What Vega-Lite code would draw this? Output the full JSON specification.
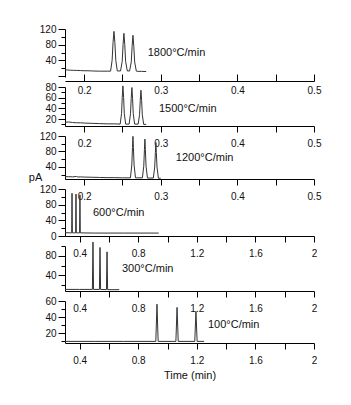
{
  "$schema": "https://vega.github.io/schema/vega-lite/v6.json",
  "padding": {"left": 28, "top": 24, "right": 10, "bottom": 5},
  "background": "white",
  "bounds": "flush",
  "spacing": 10,
  "config": {
    "font": "Liberation Sans",
    "view": {"stroke": null},
    "axis": {
      "grid": false,
      "domainColor": "#000",
      "tickColor": "#000",
      "labelColor": "#111",
      "labelFont": "Liberation Sans",
      "labelFontSize": 10,
      "labelFlush": false,
      "labelOverlap": false,
      "labelBound": false,
      "tickCount": 100,
      "titleFont": "Liberation Sans",
      "titleFontWeight": "normal",
      "titleFontSize": 11,
      "titleColor": "#111",
      "domainWidth": 1,
      "tickWidth": 1
    },
    "line": {"color": "#333", "strokeWidth": 1},
    "text": {"font": "Liberation Sans", "fontSize": 11, "color": "#111", "align": "left", "baseline": "middle"}
  },
  "datasets": {
    "p1": [
      {"t": 0.175, "v": 16}, {"t": 0.178, "v": 15.5}, {"t": 0.182, "v": 15}, {"t": 0.186, "v": 14.5},
      {"t": 0.19, "v": 14.5}, {"t": 0.195, "v": 14}, {"t": 0.2, "v": 13.5}, {"t": 0.205, "v": 13.5},
      {"t": 0.21, "v": 13}, {"t": 0.22, "v": 12.5}, {"t": 0.23, "v": 12.5}, {"t": 0.2345, "v": 12.5},
      {"t": 0.2365, "v": 40}, {"t": 0.2377, "v": 85}, {"t": 0.2389, "v": 114}, {"t": 0.2401, "v": 85},
      {"t": 0.2413, "v": 40}, {"t": 0.2433, "v": 13}, {"t": 0.2475, "v": 13}, {"t": 0.2497, "v": 38},
      {"t": 0.2508, "v": 80}, {"t": 0.2519, "v": 109}, {"t": 0.253, "v": 80}, {"t": 0.2541, "v": 38},
      {"t": 0.2563, "v": 13}, {"t": 0.2593, "v": 13}, {"t": 0.2615, "v": 36}, {"t": 0.2626, "v": 76},
      {"t": 0.2637, "v": 104}, {"t": 0.2648, "v": 76}, {"t": 0.2659, "v": 36}, {"t": 0.2681, "v": 12.5},
      {"t": 0.27, "v": 12}, {"t": 0.275, "v": 12}, {"t": 0.281, "v": 11.5}
    ],
    "p2": [
      {"t": 0.175, "v": 14}, {"t": 0.18, "v": 14.5}, {"t": 0.185, "v": 13.5}, {"t": 0.19, "v": 13},
      {"t": 0.195, "v": 13}, {"t": 0.2, "v": 12.5}, {"t": 0.21, "v": 12}, {"t": 0.22, "v": 11.5},
      {"t": 0.23, "v": 11}, {"t": 0.24, "v": 11}, {"t": 0.247, "v": 10.5}, {"t": 0.2488, "v": 30},
      {"t": 0.2497, "v": 60}, {"t": 0.2506, "v": 82}, {"t": 0.2515, "v": 60}, {"t": 0.2524, "v": 30},
      {"t": 0.2542, "v": 10.5}, {"t": 0.2587, "v": 10.5}, {"t": 0.2605, "v": 30}, {"t": 0.2614, "v": 58},
      {"t": 0.2623, "v": 79}, {"t": 0.2632, "v": 58}, {"t": 0.2641, "v": 30}, {"t": 0.2659, "v": 10.5},
      {"t": 0.2705, "v": 10.5}, {"t": 0.2723, "v": 28}, {"t": 0.2732, "v": 55}, {"t": 0.2741, "v": 74},
      {"t": 0.275, "v": 55}, {"t": 0.2759, "v": 28}, {"t": 0.2777, "v": 10}, {"t": 0.281, "v": 10}
    ],
    "p3": [
      {"t": 0.175, "v": 15}, {"t": 0.18, "v": 15}, {"t": 0.185, "v": 14.5}, {"t": 0.19, "v": 15.5},
      {"t": 0.192, "v": 14}, {"t": 0.195, "v": 14.5}, {"t": 0.2, "v": 14}, {"t": 0.21, "v": 13.5},
      {"t": 0.22, "v": 13}, {"t": 0.23, "v": 12.5}, {"t": 0.24, "v": 12.5}, {"t": 0.25, "v": 12},
      {"t": 0.2604, "v": 12}, {"t": 0.2622, "v": 45}, {"t": 0.2631, "v": 90}, {"t": 0.2637, "v": 119},
      {"t": 0.2643, "v": 90}, {"t": 0.2652, "v": 45}, {"t": 0.267, "v": 12}, {"t": 0.276, "v": 12},
      {"t": 0.2778, "v": 42}, {"t": 0.2787, "v": 85}, {"t": 0.2793, "v": 112}, {"t": 0.2799, "v": 85},
      {"t": 0.2808, "v": 42}, {"t": 0.2826, "v": 11.5}, {"t": 0.2903, "v": 11.5}, {"t": 0.2921, "v": 40},
      {"t": 0.293, "v": 78}, {"t": 0.2936, "v": 103}, {"t": 0.2942, "v": 78}, {"t": 0.2951, "v": 40},
      {"t": 0.2969, "v": 11}, {"t": 0.3, "v": 11}
    ],
    "p4": [
      {"t": 0.3, "v": 8.5}, {"t": 0.34, "v": 8}, {"t": 0.3455, "v": 8}, {"t": 0.348, "v": 109},
      {"t": 0.3505, "v": 8}, {"t": 0.3725, "v": 8}, {"t": 0.375, "v": 107}, {"t": 0.3775, "v": 8},
      {"t": 0.3995, "v": 8}, {"t": 0.402, "v": 105}, {"t": 0.4045, "v": 8}, {"t": 0.5, "v": 7.5},
      {"t": 0.7, "v": 7.5}, {"t": 0.94, "v": 7.5}
    ],
    "p5": [
      {"t": 0.3, "v": 11}, {"t": 0.4, "v": 11}, {"t": 0.487, "v": 11}, {"t": 0.491, "v": 108},
      {"t": 0.495, "v": 11}, {"t": 0.535, "v": 11}, {"t": 0.539, "v": 97}, {"t": 0.543, "v": 11},
      {"t": 0.583, "v": 10.5}, {"t": 0.587, "v": 88}, {"t": 0.591, "v": 10.5}, {"t": 0.67, "v": 10.5}
    ],
    "p6": [
      {"t": 0.3, "v": 9.5}, {"t": 0.5, "v": 9.5}, {"t": 0.7, "v": 9.5}, {"t": 0.92, "v": 9.5},
      {"t": 0.928, "v": 56}, {"t": 0.936, "v": 9.5}, {"t": 1.057, "v": 9.5}, {"t": 1.065, "v": 52},
      {"t": 1.073, "v": 9.5}, {"t": 1.186, "v": 9.5}, {"t": 1.194, "v": 47}, {"t": 1.202, "v": 9.5},
      {"t": 1.25, "v": 9.5}
    ]
  },
  "vconcat": [
    {
      "width": 249, "height": 48,
      "layer": [
        {
          "data": {"name": "p1"},
          "mark": {"type": "line"},
          "encoding": {
            "x": {"field": "t", "type": "quantitative",
              "scale": {"domain": [0.175, 0.5], "nice": false, "zero": false},
              "axis": {"values": [0.2, 0.25, 0.3, 0.35, 0.4, 0.45, 0.5], "tickCount": 100, "labelExpr": "round(datum.value*100) % 10 == 0 ? format(datum.value, '~g') : ''", "offset": 4, "tickSize": -7, "labelPadding": 11, "title": null}},
            "y": {"field": "v", "type": "quantitative",
              "scale": {"domain": [-2.4, 120], "nice": false, "zero": false},
              "axis": {"values": [0, 20, 40, 60, 80, 100, 120], "tickCount": 100, "labelExpr": "datum.value % 40 == 0 && datum.value > 0 ? format(datum.value, '~g') : ''", "tickSize": {"condition": {"test": "datum.value % 40 == 0", "value": 7}, "value": 4}, "labelPadding": 2, "title": null}}
          }
        },
        {
          "data": {"values": [{"t": 0.283, "v": 58, "label": "1800°C/min"}]},
          "mark": {"type": "text"},
          "encoding": {
            "x": {"field": "t", "type": "quantitative"},
            "y": {"field": "v", "type": "quantitative"},
            "text": {"field": "label"}
          }
        }
      ]
    },
    {
      "width": 249, "height": 39,
      "layer": [
        {
          "data": {"name": "p2"},
          "mark": {"type": "line"},
          "encoding": {
            "x": {"field": "t", "type": "quantitative",
              "scale": {"domain": [0.175, 0.5], "nice": false, "zero": false},
              "axis": {"values": [0.2, 0.25, 0.3, 0.35, 0.4, 0.45, 0.5], "tickCount": 100, "labelExpr": "round(datum.value*100) % 10 == 0 ? format(datum.value, '~g') : ''", "tickSize": 6, "labelPadding": 6, "title": null}},
            "y": {"field": "v", "type": "quantitative",
              "scale": {"domain": [7, 80], "nice": false, "zero": false},
              "axis": {"values": [10, 20, 30, 40, 50, 60, 70, 80], "tickCount": 100, "labelExpr": "datum.value % 20 == 0 ? format(datum.value, '~g') : ''", "tickSize": {"condition": {"test": "datum.value % 20 == 0", "value": 7}, "value": 4}, "labelPadding": 2, "title": null}}
          }
        },
        {
          "data": {"values": [{"t": 0.2976, "v": 39, "label": "1500°C/min"}]},
          "mark": {"type": "text"},
          "encoding": {
            "x": {"field": "t", "type": "quantitative"},
            "y": {"field": "v", "type": "quantitative"},
            "text": {"field": "label"}
          }
        }
      ]
    },
    {
      "width": 249, "height": 43,
      "layer": [
        {
          "data": {"name": "p3"},
          "mark": {"type": "line"},
          "encoding": {
            "x": {"field": "t", "type": "quantitative",
              "scale": {"domain": [0.175, 0.5], "nice": false, "zero": false},
              "axis": {"values": [0.2, 0.25, 0.3, 0.35, 0.4, 0.45, 0.5], "tickCount": 100, "labelExpr": "round(datum.value*100) % 10 == 0 ? format(datum.value, '~g') : ''", "tickSize": 6, "labelPadding": 6, "title": null}},
            "y": {"field": "v", "type": "quantitative",
              "scale": {"domain": [9, 120], "nice": false, "zero": false},
              "axis": {"values": [20, 40, 60, 80, 100, 120], "tickCount": 100, "labelExpr": "datum.value % 40 == 0 ? format(datum.value, '~g') : ''", "tickSize": {"condition": {"test": "datum.value % 40 == 0", "value": 7}, "value": 4}, "labelPadding": 2,
                "title": "pA", "titleAngle": 0, "titleX": -30, "titleY": 41, "titleAlign": "center", "titleBaseline": "middle", "titleFontSize": 11}}
          }
        },
        {
          "data": {"values": [{"t": 0.3197, "v": 63, "label": "1200°C/min"}]},
          "mark": {"type": "text"},
          "encoding": {
            "x": {"field": "t", "type": "quantitative"},
            "y": {"field": "v", "type": "quantitative"},
            "text": {"field": "label"}
          }
        }
      ]
    },
    {
      "width": 249, "height": 47,
      "layer": [
        {
          "data": {"name": "p4"},
          "mark": {"type": "line"},
          "encoding": {
            "x": {"field": "t", "type": "quantitative",
              "scale": {"domain": [0.3, 2], "nice": false, "zero": false},
              "axis": {"values": [0.4, 0.6, 0.8, 1, 1.2, 1.4, 1.6, 1.8, 2], "tickCount": 100, "labelExpr": "round(datum.value*10) % 4 == 0 ? format(datum.value, '~g') : ''", "tickSize": 6, "labelPadding": 6, "title": null}},
            "y": {"field": "v", "type": "quantitative",
              "scale": {"domain": [0, 120], "nice": false, "zero": false},
              "axis": {"values": [0, 20, 40, 60, 80, 100, 120], "tickCount": 100, "labelExpr": "datum.value % 40 == 0 ? format(datum.value, '~g') : ''", "tickSize": {"condition": {"test": "datum.value % 40 == 0", "value": 7}, "value": 4}, "labelPadding": 2, "title": null}}
          }
        },
        {
          "data": {"values": [{"t": 0.491, "v": 59, "label": "600°C/min"}]},
          "mark": {"type": "text"},
          "encoding": {
            "x": {"field": "t", "type": "quantitative"},
            "y": {"field": "v", "type": "quantitative"},
            "text": {"field": "label"}
          }
        }
      ]
    },
    {
      "width": 249, "height": 45,
      "layer": [
        {
          "data": {"name": "p5"},
          "mark": {"type": "line"},
          "encoding": {
            "x": {"field": "t", "type": "quantitative",
              "scale": {"domain": [0.3, 2], "nice": false, "zero": false},
              "axis": {"values": [0.4, 0.6, 0.8, 1, 1.2, 1.4, 1.6, 1.8, 2], "tickCount": 100, "labelExpr": "round(datum.value*10) % 4 == 0 ? format(datum.value, '~g') : ''", "tickSize": 6, "labelPadding": 6, "title": null}},
            "y": {"field": "v", "type": "quantitative",
              "scale": {"domain": [7.75, 100], "nice": false, "zero": false},
              "axis": {"values": [20, 40, 60, 80, 100], "tickCount": 100, "labelExpr": "datum.value % 40 == 0 ? format(datum.value, '~g') : ''", "tickSize": {"condition": {"test": "datum.value % 40 == 0", "value": 7}, "value": 4}, "labelPadding": 2, "title": null}}
          }
        },
        {
          "data": {"values": [{"t": 0.689, "v": 53, "label": "300°C/min"}]},
          "mark": {"type": "text"},
          "encoding": {
            "x": {"field": "t", "type": "quantitative"},
            "y": {"field": "v", "type": "quantitative"},
            "text": {"field": "label"}
          }
        }
      ]
    },
    {
      "width": 249, "height": 42,
      "layer": [
        {
          "data": {"name": "p6"},
          "mark": {"type": "line"},
          "encoding": {
            "x": {"field": "t", "type": "quantitative",
              "scale": {"domain": [0.3, 2], "nice": false, "zero": false},
              "axis": {"values": [0.4, 0.6, 0.8, 1, 1.2, 1.4, 1.6, 1.8, 2], "tickCount": 100, "labelExpr": "round(datum.value*10) % 4 == 0 ? format(datum.value, '~g') : ''", "tickSize": 6, "labelPadding": 6, "title": "Time (min)", "titlePadding": 4}},
            "y": {"field": "v", "type": "quantitative",
              "scale": {"domain": [7.5, 60], "nice": false, "zero": false},
              "axis": {"values": [10, 20, 30, 40, 50, 60], "tickCount": 100, "labelExpr": "datum.value % 20 == 0 ? format(datum.value, '~g') : ''", "tickSize": {"condition": {"test": "datum.value % 20 == 0", "value": 7}, "value": 4}, "labelPadding": 2, "title": null}}
          }
        },
        {
          "data": {"values": [{"t": 1.276, "v": 30, "label": "100°C/min"}]},
          "mark": {"type": "text"},
          "encoding": {
            "x": {"field": "t", "type": "quantitative"},
            "y": {"field": "v", "type": "quantitative"},
            "text": {"field": "label"}
          }
        }
      ]
    }
  ]
}
